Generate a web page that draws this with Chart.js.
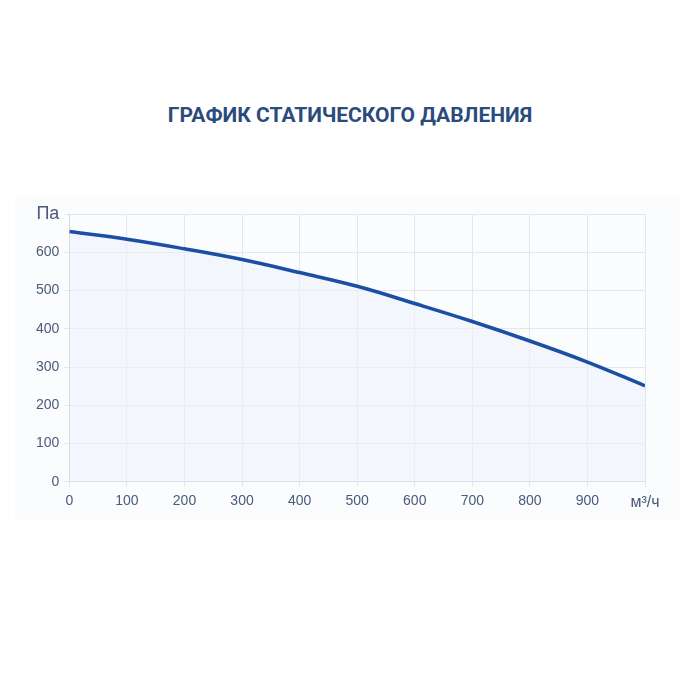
<!DOCTYPE html>
<html lang="ru">
<head>
    <meta charset="UTF-8">
    <title>График статического давления</title>
    <script src="https://cdn.jsdelivr.net/npm/chart.js"></script>
    <style>
        body {
            margin: 0;
            width: 700px;
            height: 700px;
            background: #ffffff;
            position: relative;
            overflow: hidden;
        }
        h1 {
            position: absolute;
            top: 103px;
            left: 0;
            width: 700px;
            margin: 0;
            text-align: center;
            font-family: Roboto, "Liberation Sans", sans-serif;
            font-weight: bold;
            font-size: 21px;
            color: #2b4b7c;
        }
        #chartBox {
            position: absolute;
            left: 15px;
            top: 195px;
            width: 665px;
            height: 325px;
            background: #fbfcfe;
        }
    </style>
</head>
<body>
    <h1>ГРАФИК СТАТИЧЕСКОГО ДАВЛЕНИЯ</h1>
    <div id="chartBox">
        <canvas id="myChart"></canvas>
    </div>
    <script>
        // расход воздуха, м³/ч
        const flow = [0, 100, 200, 300, 400, 500, 600, 700, 800, 900, 1000];
        // статическое давление, Па
        const pressure = [654, 634, 609, 581, 547, 511, 466, 419, 368, 313, 251];

        const yUnit = 'Па';
        const xUnit = 'м³/ч';

        const points = flow.map((f, i) => ({ x: f, y: pressure[i] }));

        const ctx = document.getElementById('myChart').getContext('2d');
        new Chart(ctx, {
            type: 'line',
            data: {
                datasets: [{
                    data: points,
                    borderColor: '#1b4fa6',
                    backgroundColor: 'rgba(236, 241, 250, 0.55)',
                    borderWidth: 3.5,
                    fill: 'origin',
                    tension: 0.4,
                    pointRadius: 0
                }]
            },
            options: {
                responsive: true,
                maintainAspectRatio: false,
                animation: false,
                layout: {
                    padding: { left: 16, right: 35, top: 19, bottom: 2 }
                },
                plugins: {
                    legend: { display: false },
                    tooltip: { enabled: false }
                },
                scales: {
                    x: {
                        type: 'linear',
                        min: 0,
                        max: 1000,
                        grid: { color: '#e3e6ec', tickLength: 5 },
                        border: { color: '#d6dae2' },
                        ticks: {
                            stepSize: 100,
                            color: '#4a5b7a',
                            padding: 6,
                            maxRotation: 0,
                            font: function(c) {
                                if (c.tick && c.tick.value === 1000) {
                                    return { family: 'Liberation Sans', size: 16 };
                                }
                                return { family: 'Liberation Sans', size: 14 };
                            },
                            callback: function(value) {
                                return value === 1000 ? xUnit : value;
                            }
                        }
                    },
                    y: {
                        min: 0,
                        max: 700,
                        grid: { color: '#e3e6ec', tickLength: 5 },
                        border: { color: '#d6dae2' },
                        ticks: {
                            stepSize: 100,
                            color: '#4a5b7a',
                            padding: 5,
                            font: function(c) {
                                if (c.tick && c.tick.value === 700) {
                                    return { family: 'Liberation Sans', size: 18 };
                                }
                                return { family: 'Liberation Sans', size: 14 };
                            },
                            callback: function(value) {
                                return value === 700 ? yUnit : value;
                            }
                        }
                    }
                }
            }
        });
    </script>
</body>
</html>
